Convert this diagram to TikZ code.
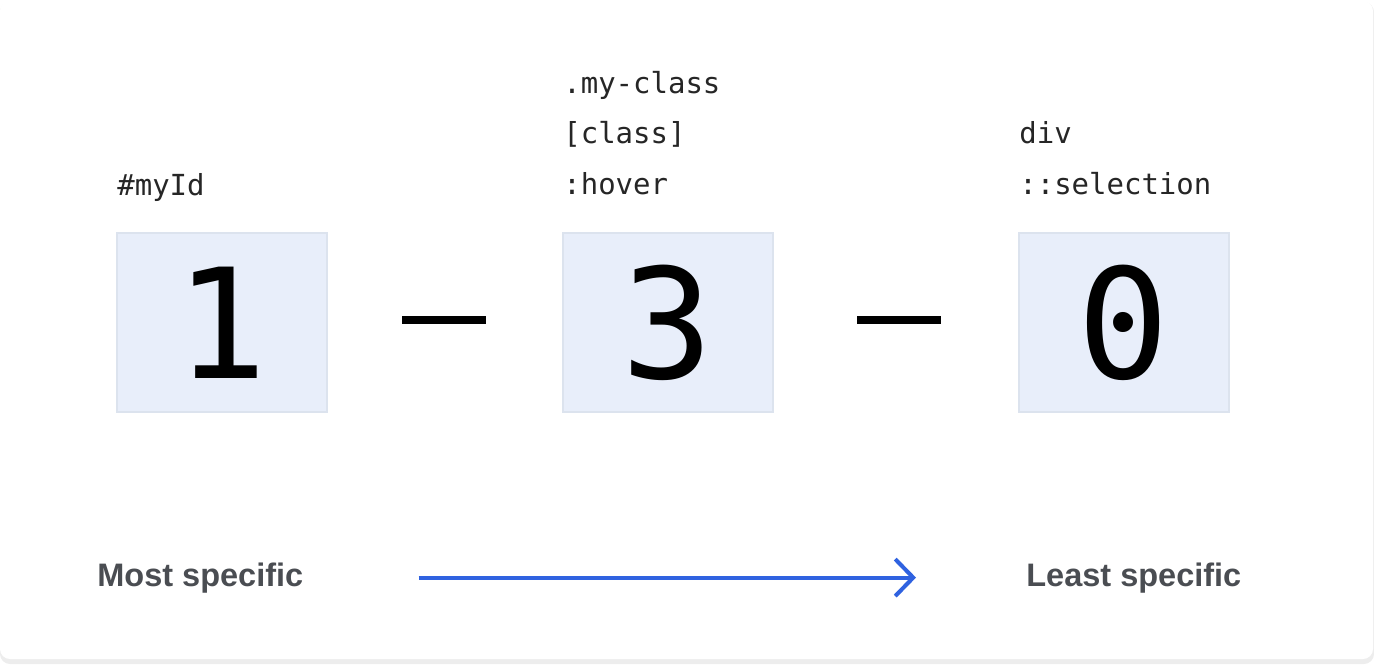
\documentclass[tikz,border=0pt]{standalone}
\usepackage{fontspec}
\setmainfont{Liberation Sans}
\newfontfamily\codefont{DejaVu Sans Mono}
\usetikzlibrary{positioning,arrows.meta}
\definecolor{boxblue}{HTML}{E8EEFA}
\definecolor{boxline}{HTML}{DCE3EE}
\definecolor{labelgray}{HTML}{4A4D52}
\definecolor{arrowblue}{HTML}{2F62E0}
\tikzstyle{digit} = [rectangle, draw=boxline, fill=boxblue, line width=0.03cm,
    minimum width=4.2cm, minimum height=3.58cm, inner sep=0pt,
    font=\codefont\fontsize{87}{87}\selectfont]
\tikzstyle{selector} = [anchor=base west, inner sep=0pt, text=black!85,
    font=\codefont\fontsize{16.5}{20}\selectfont]
\tikzstyle{sep} = [rectangle, fill=black, minimum width=1.68cm,
    minimum height=0.16cm, inner sep=0pt]
\tikzstyle{ends} = [anchor=base west, inner sep=0pt, text=labelgray,
    font=\bfseries\fontsize{18.5}{22}\selectfont]

\begin{document}
\begin{tikzpicture}[x=0.02cm, y=-0.02cm]
        \useasboundingbox (0,0) rectangle (1374,664);
        % card
        \fill[black!7, rounded corners=0.2cm] (0,2) rectangle (1374,664);
        \fill[white, rounded corners=0.2cm] (0,1) rectangle (1373,659);

        % the three counts
        \node (ids) at (222,322.5) [digit] {1};
        \node (classes) at (668,322.5) [digit] {3};
        \node (types) at (1124,322.5) [digit] {0};
        \node (sepa) at (444,320) [sep] {};
        \node (sepb) at (899,320) [sep] {};

        % selectors above each count
        \node (myid) at (117,195) [selector] {\#myId};
        \node (myclass) at (563,93) [selector] {.my-class};
        \node (attr) at (563,143) [selector] {[class]};
        \node (hover) at (563,194) [selector] {:hover};
        \node (div) at (1019,143) [selector] {div};
        \node (selection) at (1019,194) [selector] {::selection};

        % direction
        \node (most) at (97,586) [ends] {Most specific};
        \node (least) at (1026,586) [ends] {Least specific};
        \draw[arrowblue, line width=0.08cm, shorten <=2.3cm, shorten >=2.2cm,
            -{Straight Barb[length=0.36cm, width=0.74cm]}] (most) -- (least);
    \end{tikzpicture}
\end{document}
